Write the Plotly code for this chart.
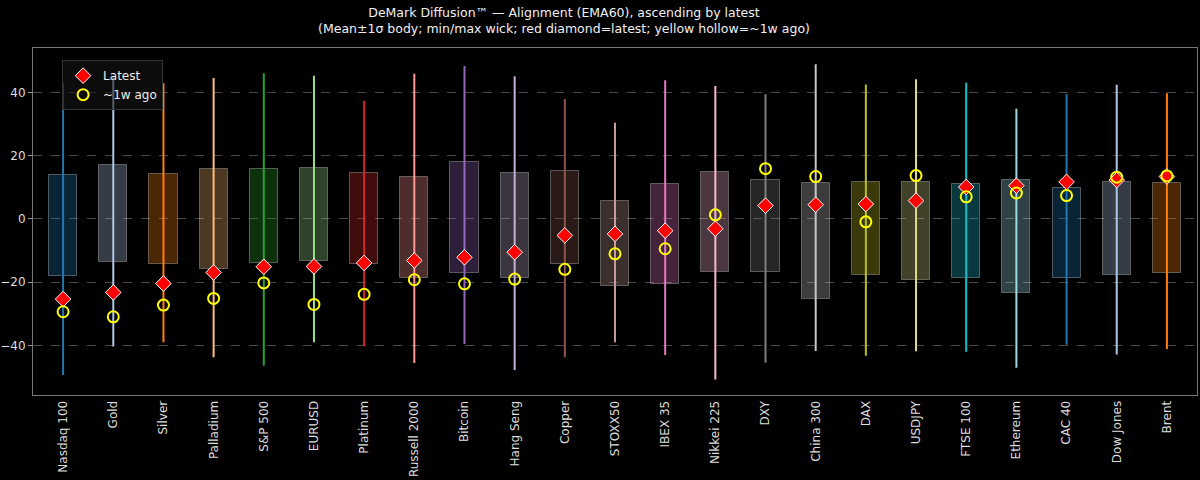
import plotly.graph_objects as go

# assets sorted ascending by latest alignment value
assets = ['Nasdaq 100', 'Gold', 'Silver', 'Palladium', 'S&P 500', 'EURUSD', 'Platinum',
          'Russell 2000', 'Bitcoin', 'Hang Seng', 'Copper', 'STOXX50', 'IBEX 35',
          'Nikkei 225', 'DXY', 'China 300', 'DAX', 'USDJPY', 'FTSE 100', 'Ethereum',
          'CAC 40', 'Dow Jones', 'Brent']

mean = [-2.05, 1.7, 0.0, 0.05, 0.95, 1.35, 0.2, -2.8, 0.5, -2.05, 0.45, -7.7,
        -4.75, -1.1, -2.3, -7.0, -3.0, -3.85, -3.85, -5.55, -4.5, -2.95, -2.9]
std = [15.85, 15.4, 14.3, 15.85, 14.75, 14.75, 14.4, 15.9, 17.6, 16.45, 14.75, 13.4,
       15.75, 15.8, 14.6, 18.4, 14.6, 15.45, 14.85, 17.85, 14.2, 14.75, 14.2]
vmin = [-49.3, -40.3, -38.9, -43.7, -46.4, -38.9, -40.2, -45.5, -39.5, -47.7, -43.7, -38.9,
        -43.0, -50.7, -45.4, -41.7, -43.2, -41.8, -41.9, -47.0, -39.7, -42.8, -41.1]
vmax = [42.9, 44.7, 42.9, 44.5, 46.0, 45.2, 37.3, 45.9, 48.3, 45.1, 37.9, 30.4,
        43.8, 42.0, 39.4, 48.9, 42.5, 44.1, 43.0, 34.8, 39.4, 42.4, 39.7]
latest = [-25.3, -23.2, -20.4, -16.9, -15.1, -15.0, -13.9, -13.1, -12.1, -10.5, -5.2, -4.7,
          -3.7, -3.1, 4.2, 4.5, 4.7, 5.8, 10.1, 10.5, 11.7, 12.3, 13.4]
week_ago = [-29.3, -30.9, -27.2, -25.1, -20.2, -27.0, -23.8, -19.2, -20.5, -19.0, -15.9, -11.0,
            -9.4, 1.3, 15.9, 13.4, -0.9, 13.7, 7.0, 8.2, 7.4, 13.2, 13.6]

# matplotlib tab20 cycle
tab20 = ['#1f77b4', '#aec7e8', '#ff7f0e', '#ffbb78', '#2ca02c', '#98df8a', '#d62728',
         '#ff9896', '#9467bd', '#c5b0d5', '#8c564b', '#c49c94', '#e377c2', '#f7b6d2',
         '#7f7f7f', '#c7c7c7', '#bcbd22', '#dbdb8d', '#17becf', '#9edae5']
colors = [tab20[i % len(tab20)] for i in range(len(assets))]


def rgba(hex_color, a):
    h = hex_color.lstrip('#')
    r, g, b = int(h[0:2], 16), int(h[2:4], 16), int(h[4:6], 16)
    return f'rgba({r},{g},{b},{a})'


fig = go.Figure()

# mean +/- 1 sigma bodies
fig.add_trace(go.Bar(
    x=assets, y=[2 * s for s in std], base=[m - s for m, s in zip(mean, std)],
    width=0.56, marker=dict(color=[rgba(c, 0.3) for c in colors],
                            line=dict(color='rgba(255,255,255,0.3)', width=1)),
    showlegend=False, hoverinfo='skip'
))

# min/max wicks
for name, lo, hi, c in zip(assets, vmin, vmax, colors):
    fig.add_trace(go.Scatter(
        x=[name, name], y=[lo, hi], mode='lines',
        line=dict(color=c, width=2), showlegend=False, hoverinfo='skip'
    ))

fig.add_trace(go.Scatter(
    x=assets, y=latest, mode='markers', name='Latest',
    marker=dict(symbol='diamond', size=12, color='#ff0000',
                line=dict(color='white', width=1))
))
fig.add_trace(go.Scatter(
    x=assets, y=week_ago, mode='markers', name='~1w ago',
    marker=dict(symbol='circle-open', size=11, color='#ffff00',
                line=dict(color='#ffff00', width=2))
))

fig.update_layout(
    width=1200, height=480,
    paper_bgcolor='black', plot_bgcolor='black',
    font=dict(family='DejaVu Sans', size=12, color='#dddddd'),
    margin=dict(l=33, r=3, t=48, b=85),
    title=dict(text='DeMark Diffusion™ — Alignment (EMA60), ascending by latest<br>'
                    '(Mean±1σ body; min/max wick; red diamond=latest; yellow hollow=~1w ago)',
               x=0.47, xanchor='center', y=0.965, yanchor='top',
               font=dict(size=12.5, color='#f0f0f0')),
    legend=dict(x=0.025, y=0.965, xanchor='left', yanchor='top',
                bgcolor='rgba(20,20,20,0.6)', bordercolor='#333333', borderwidth=1,
                font=dict(size=12, color='#eeeeee')),
    bargap=0,
)
fig.update_xaxes(
    range=[-0.6, 22.6], tickangle=-90, showgrid=False,
    showline=True, linecolor='#777777', mirror=True, ticks='',
    tickfont=dict(size=12, color='#dddddd')
)
fig.update_yaxes(
    range=[-55.6, 54.0], tickvals=[-40, -20, 0, 20, 40], automargin=False,
    showgrid=True, gridcolor='#4a4a4a', griddash='dash', gridwidth=1,
    zeroline=False, showline=True, linecolor='#777777', mirror=True,
    ticks='outside', ticklen=4, tickcolor='#999999',
    tickfont=dict(size=12, color='#dddddd')
)

fig.write_html('out.html', config={'displayModeBar': False},
               post_script="document.body.style.margin='0';")
